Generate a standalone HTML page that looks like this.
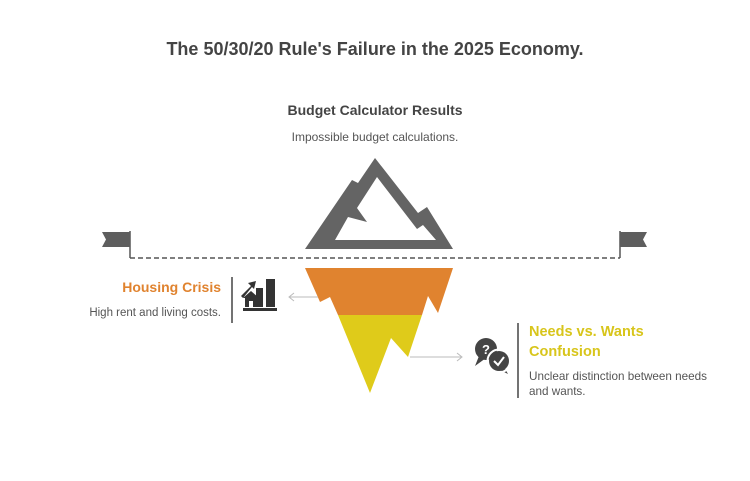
<!DOCTYPE html>
<html><head><style>
body{margin:0;width:750px;height:481px;background:#fff;position:relative;overflow:hidden;font-family:"Liberation Sans",sans-serif;color:#555}
.t{position:absolute;white-space:nowrap}
</style></head><body>
<div class="t" style="left:0;width:750px;text-align:center;top:39px;font-size:18px;font-weight:bold;color:#444">The 50/30/20 Rule's Failure in the 2025 Economy.</div>
<div class="t" style="left:0;width:750px;text-align:center;top:102px;font-size:14px;font-weight:bold;color:#444">Budget Calculator Results</div>
<div class="t" style="left:0;width:750px;text-align:center;top:130px;font-size:12px;color:#555">Impossible budget calculations.</div>
<div class="t" style="right:529px;top:279px;font-size:14px;font-weight:bold;color:#E0832F">Housing Crisis</div>
<div class="t" style="right:529px;top:307px;font-size:11.5px;color:#555">High rent and living costs.</div>
<div class="t" style="left:529px;top:323px;font-size:14.5px;font-weight:bold;color:#D8C51B;line-height:19.5px">Needs vs. Wants<br>Confusion</div>
<div class="t" style="left:529px;top:369px;font-size:11.7px;color:#555;line-height:15px">Unclear distinction between needs<br>and wants.</div>
<svg width="750" height="481" style="position:absolute;left:0;top:0">
<line x1="130" y1="258" x2="620" y2="258" stroke="#555" stroke-width="1.5" stroke-dasharray="5,3"/>
<line x1="130" y1="231" x2="130" y2="258" stroke="#555" stroke-width="1.5"/>
<polygon points="102,232 130,232 130,247 102,247 106,239.5" fill="#5e5e5e"/>
<line x1="620" y1="231" x2="620" y2="258" stroke="#555" stroke-width="1.5"/>
<polygon points="620,232 647,232 643,239.5 647,247 620,247" fill="#5e5e5e"/>
<polygon points="305,249 352,180 358,183 375,158 418,213 427,207 453,249" fill="#646464"/>
<polygon points="335,240 348,217 367,222 357,208 377,177 417,229 423,225 436,240" fill="#fff"/>
<polygon points="305,268 453,268 438,313 428,296 422,315 338,315 330,297 320,302" fill="#E0832F"/>
<polygon points="338,315 422,315 408,357 391,338 370,393" fill="#DFCB1A"/>
<line x1="290" y1="297" x2="318" y2="297" stroke="#bbb" stroke-width="1"/>
<polyline points="294,293 289,297 294,301" fill="none" stroke="#bbb"/>
<line x1="410" y1="357" x2="461" y2="357" stroke="#bbb" stroke-width="1"/>
<polyline points="457,353 462,357 457,361" fill="none" stroke="#bbb"/>
<line x1="232" y1="277" x2="232" y2="323" stroke="#444" stroke-width="1.5"/>
<line x1="518" y1="323" x2="518" y2="398" stroke="#444" stroke-width="1.5"/>
<g fill="#333">
<rect x="266" y="279" width="9" height="28"/>
<rect x="256" y="288" width="7" height="19"/>
<rect x="243" y="308" width="34" height="3"/>
<polygon points="241,296 251,286 248,283 256,281 254,289 252,287 243,298"/>
<polygon points="243,298 251,291 259,298 257,298 257,307 245,307 245,298"/>
</g>
<rect x="249" y="301" width="4" height="6" fill="#fff"/>
<g fill="#444">
<circle cx="486" cy="349" r="11"/><polygon points="479,356 475,366 486,358"/>
<circle cx="499" cy="361" r="10"/><polygon points="504,367 508,374 498,369"/>
</g>
<circle cx="499" cy="361" r="11.5" fill="none" stroke="#fff" stroke-width="2"/>
<text x="486" y="354" font-size="13" font-weight="bold" fill="#fff" text-anchor="middle" font-family="Liberation Sans">?</text>
<polyline points="494,361 498,365 504,357" fill="none" stroke="#fff" stroke-width="2"/>
</svg>
</body></html>
